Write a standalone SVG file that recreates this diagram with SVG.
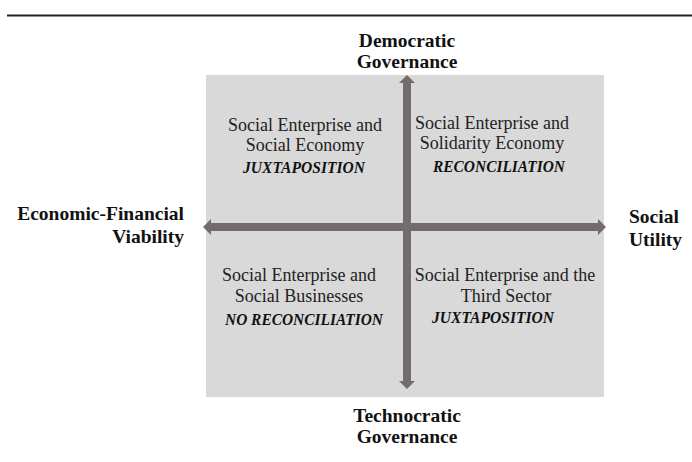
<svg xmlns="http://www.w3.org/2000/svg" width="692" height="462" viewBox="0 0 692 462">
<style>
.axis{font-family:"Liberation Serif","DejaVu Serif",serif;font-weight:bold;font-size:19.5px;fill:#111}
.q{font-family:"Liberation Serif","DejaVu Serif",serif;font-size:18px;fill:#222;text-anchor:middle}
.qb{font-family:"Liberation Serif","DejaVu Serif",serif;font-size:17px;font-weight:bold;font-style:italic;fill:#111;text-anchor:middle}
.arr{fill:#726c6c}
</style>
<rect width="692" height="462" fill="#fff"/>
<line x1="7" y1="15.5" x2="692" y2="15.5" stroke="#222" stroke-width="2"/>
<rect id="field" x="206" y="75" width="398" height="322" fill="#d9d9d9"/>
<g id="connectors">
<polygon class="arr" points="403,83 399,83 407,75 415,83 411,83 411,381 415,381 407,389 399,381 403,381"/>
<polygon class="arr" points="211,223 211,219 203,227 211,235 211,231 598,231 598,235 606,227 598,219 598,223"/>
</g>
<g id="top"><text class="axis" text-anchor="middle" x="407" y="47">Democratic</text><text class="axis" text-anchor="middle" x="407" y="68">Governance</text></g>
<g id="bottom"><text class="axis" text-anchor="middle" x="407" y="422">Technocratic</text><text class="axis" text-anchor="middle" x="407" y="443">Governance</text></g>
<g id="left"><text class="axis" text-anchor="end" x="184" y="220">Economic-Financial</text><text class="axis" text-anchor="end" x="184" y="243">Viability</text></g>
<g id="right"><text class="axis" x="629" y="223">Social</text><text class="axis" x="629" y="246">Utility</text></g>
<g id="q-tl"><text class="q" x="305" y="131">Social Enterprise and</text><text class="q" x="305" y="151">Social Economy</text><text class="qb" x="304" y="173" textLength="122" lengthAdjust="spacingAndGlyphs">JUXTAPOSITION</text></g>
<g id="q-tr"><text class="q" x="492" y="129">Social Enterprise and</text><text class="q" x="492" y="149">Solidarity Economy</text><text class="qb" x="499" y="172" textLength="132" lengthAdjust="spacingAndGlyphs">RECONCILIATION</text></g>
<g id="q-bl"><text class="q" x="299" y="281">Social Enterprise and</text><text class="q" x="299" y="302">Social Businesses</text><text class="qb" x="304" y="325" textLength="158" lengthAdjust="spacingAndGlyphs">NO RECONCILIATION</text></g>
<g id="q-br"><text class="q" x="505" y="281">Social Enterprise and the</text><text class="q" x="506" y="302">Third Sector</text><text class="qb" x="493" y="323" textLength="122" lengthAdjust="spacingAndGlyphs">JUXTAPOSITION</text></g>
</svg>
